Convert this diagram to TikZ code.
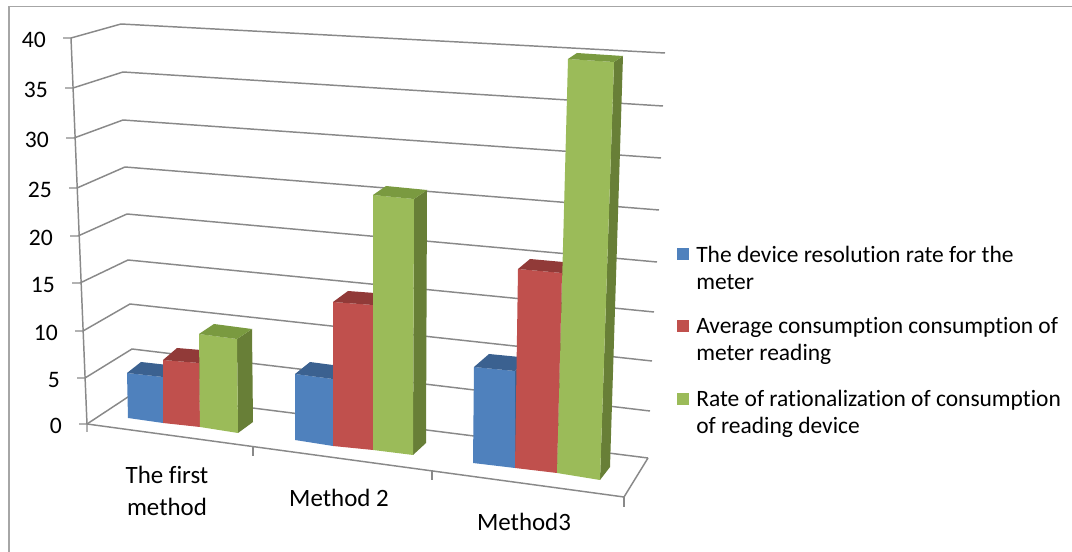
\documentclass[tikz,border=0pt]{standalone}
\usepackage{fontspec}
\setmainfont{Carlito}[Ligatures=NoCommon]
\usetikzlibrary{calc}

\definecolor{gridgray}{HTML}{898989}
\definecolor{framegray}{HTML}{A6A6A6}
\definecolor{bluefront}{HTML}{4F81BD}
\definecolor{bluetop}{HTML}{3B6190}
\definecolor{blueside}{HTML}{3A5F8C}
\definecolor{redfront}{HTML}{C0504D}
\definecolor{redtop}{HTML}{913A38}
\definecolor{redside}{HTML}{8C3836}
\definecolor{greenfront}{HTML}{9BBB59}
\definecolor{greentop}{HTML}{7A9A40}
\definecolor{greenside}{HTML}{687F37}

% one 3-D column: colour prefix, front bottom-left, front bottom-right,
% front top-left, front top-right, depth shift at the top, depth shift at the bottom
\newcommand\chartcolumn[7]{%
  \fill[#1side] (#3) -- (#5) -- ($(#5)+(#6)$) -- ($(#3)+(#7)$) -- cycle;
  \fill[#1front] (#2) -- (#3) -- (#5) -- (#4) -- cycle;
  \fill[#1top] (#4) -- (#5) -- ($(#5)+(#6)$) -- ($(#4)+(#6)$) -- cycle;
}

\begin{document}
\begin{tikzpicture}[x=0.75pt,y=-0.75pt,
  grid/.style={draw=gridgray,line width=1.1pt},
  ylab/.style={inner sep=0pt,anchor=east,font=\fontsize{17.7}{21}\selectfont},
  catlab/.style={inner sep=0pt,align=center,font=\fontsize{18.7}{24}\selectfont},
  legtext/.style={inner sep=0pt,anchor=base west,align=left,font=\fontsize{17.6}{20.6}\selectfont}]
\useasboundingbox (0,0) rectangle (1072,552);
\fill[white] (0,0) rectangle (1072,552);

% chart frame
\draw[framegray,line width=1.2pt] (9,552) -- (9,6.5) -- (1072,6.5);

% gridlines: side wall and back wall, ticks and value labels
\foreach \v/\ax/\ay/\bx/\by/\cx/\cy in {
  40/71/38/121/24/665/53,
  35/73/88/123/72/663/106,
  30/74/138/123/120/661/158,
  25/77/188/125/167/659/210,
  20/78/236/127/214/657/262,
  15/80/283/128/260/654/312,
  10/83/331/130/304/652/361,
  5/85/378/132/349/650/411,
  0/87/424/134/393/648/458} {
  \draw[grid] (\ax-8,\ay) -- (\ax,\ay) -- (\bx,\by) -- (\cx,\cy);
  \node[ylab] (ylab\v) at (\ax-25,\ay+2) {\v};
}

% value axis and floor
\draw[grid] (71,38) -- (87,424);
\draw[grid] (87,432) -- (87,424) -- (624,497) -- (648,458);
\draw[grid] (253,446) -- (253,456);
\draw[grid] (432,470) -- (432,480);
\draw[grid] (624,497) -- (624,507);

% The first method
\chartcolumn{blue}{128,418}{163,423}{127,373}{163,377}{14,-11}{14,-11}
\chartcolumn{red}{163,423}{200,427}{163,360}{199,363}{14,-12}{14,-11}
\chartcolumn{green}{200,427}{238,433}{199,334}{237,339}{15,-10}{15,-11}

% Method 2
\chartcolumn{blue}{295,440}{333,446}{295,374}{333,379}{15,-12}{14,-12}
\chartcolumn{red}{333,446}{373,450}{333,302}{373,305}{15,-11}{14,-12}
\chartcolumn{green}{373,450}{413,455}{373,195}{414,199}{13,-9}{13,-12}

% Method3
\chartcolumn{blue}{473,463}{515,468}{474,367}{515,371}{15,-13}{12,-12}
\chartcolumn{red}{515,468}{557,473}{518,269}{562,273}{12,-10}{12,-12}
\chartcolumn{green}{557,473}{600,480}{568,59}{614,62}{9,-6}{10,-13}

% category labels
\node[catlab] (cat1) at (167,491) {The first\\method};
\node[catlab] (cat2) at (339,498) {Method 2};
\node[catlab] (cat3) at (524,522) {Method3};

% legend (each entry is placed at the baseline of its second line)
\fill[bluefront] (677,248) rectangle (689,260);
\node[legtext] (leg1) at (696,289.5) {The device resolution rate for the\\meter};
\fill[redfront] (677,320) rectangle (689,332);
\node[legtext] (leg2) at (696,361) {Average consumption consumption of\\meter reading};
\fill[greenfront] (677,393) rectangle (689,405);
\node[legtext] (leg3) at (696,434) {Rate of rationalization of consumption\\of reading device};
\end{tikzpicture}
\end{document}
